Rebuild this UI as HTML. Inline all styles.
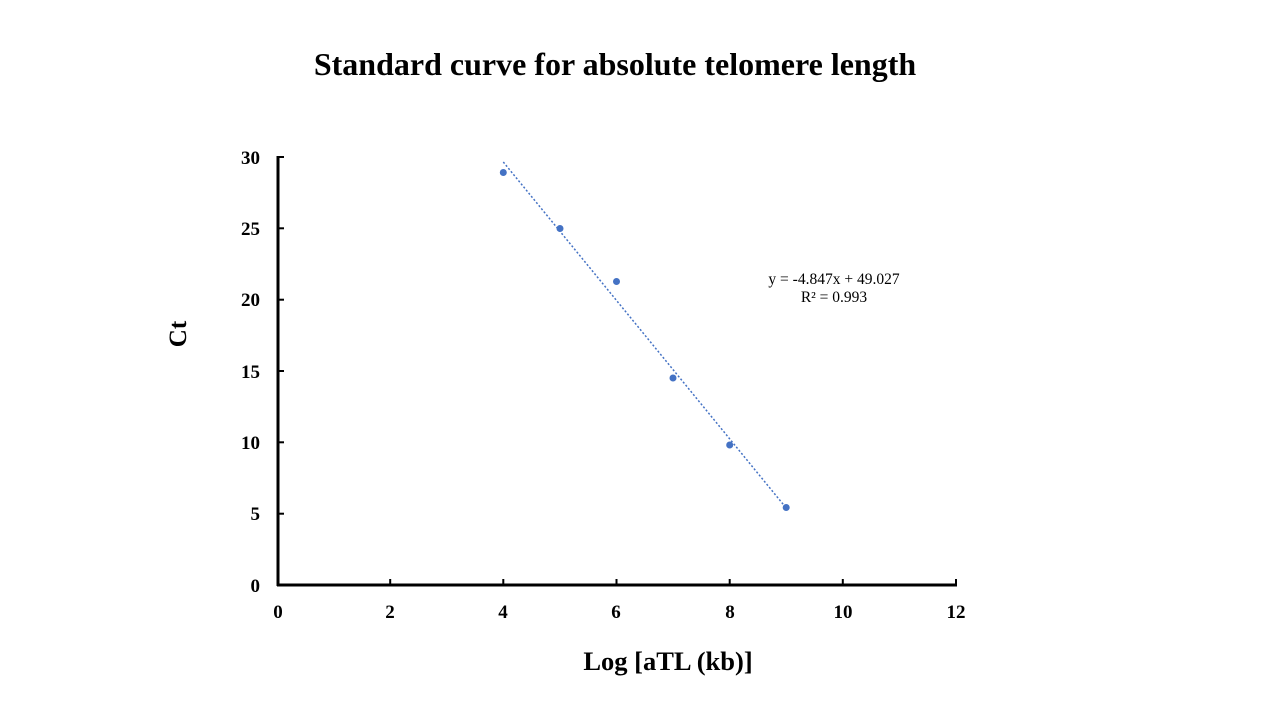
<!DOCTYPE html>
<html><head><meta charset="utf-8"><style>html,body{margin:0;padding:0;background:#fff}svg{display:block}</style></head>
<body>
<svg width="1280" height="720" xmlns="http://www.w3.org/2000/svg" font-family="Liberation Serif, serif">
<rect width="1280" height="720" fill="#fff"/>
<text x="615" y="75" text-anchor="middle" font-size="32" font-weight="bold">Standard curve for absolute telomere length</text>
<g stroke="#000" stroke-width="3" fill="none">
<line x1="278" y1="156" x2="278" y2="586"/>
<line x1="277" y1="585" x2="957" y2="585"/>
</g>
<g stroke="#000" stroke-width="2">
<line x1="278" y1="157" x2="284" y2="157"/>
<line x1="278" y1="228.3" x2="284" y2="228.3"/>
<line x1="278" y1="299.7" x2="284" y2="299.7"/>
<line x1="278" y1="371" x2="284" y2="371"/>
<line x1="278" y1="442.3" x2="284" y2="442.3"/>
<line x1="278" y1="513.7" x2="284" y2="513.7"/>
<line x1="390.2" y1="579" x2="390.2" y2="585"/>
<line x1="503.3" y1="579" x2="503.3" y2="585"/>
<line x1="616.5" y1="579" x2="616.5" y2="585"/>
<line x1="729.7" y1="579" x2="729.7" y2="585"/>
<line x1="842.8" y1="579" x2="842.8" y2="585"/>
<line x1="956" y1="579" x2="956" y2="585"/>
</g>
<g font-size="19" font-weight="bold" text-anchor="end">
<text x="260" y="164">30</text><text x="260" y="235">25</text><text x="260" y="306">20</text>
<text x="260" y="378">15</text><text x="260" y="449">10</text><text x="260" y="520">5</text><text x="260" y="592">0</text>
</g>
<g font-size="19" font-weight="bold" text-anchor="middle">
<text x="278" y="618">0</text><text x="390" y="618">2</text><text x="503" y="618">4</text>
<text x="616" y="618">6</text><text x="730" y="618">8</text><text x="843" y="618">10</text><text x="956" y="618">12</text>
</g>
<text x="668" y="670" text-anchor="middle" font-size="26.5" font-weight="bold">Log [aTL (kb)]</text>
<text transform="translate(186,334) rotate(-90)" text-anchor="middle" font-size="25" font-weight="bold">Ct</text>
<line x1="503.3" y1="162" x2="786.2" y2="508" stroke="#4472C4" stroke-width="1.5" stroke-dasharray="2,2"/>
<g fill="#4472C4">
<circle cx="503.3" cy="172.5" r="3.5"/><circle cx="560" cy="228.5" r="3.5"/><circle cx="616.5" cy="281.5" r="3.5"/>
<circle cx="673" cy="378" r="3.5"/><circle cx="729.7" cy="445" r="3.5"/><circle cx="786.2" cy="507.5" r="3.5"/>
</g>
<text x="834" y="284" text-anchor="middle" font-size="15.5">y = -4.847x + 49.027</text>
<text x="834" y="302" text-anchor="middle" font-size="15.5">R² = 0.993</text>
</svg>
</body></html>
